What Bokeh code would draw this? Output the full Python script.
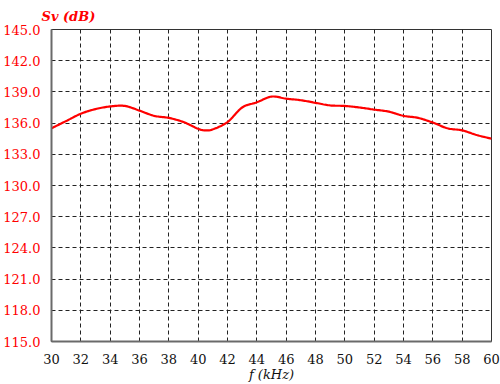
import numpy as np
from bokeh.plotting import figure
from bokeh.models import Title, FixedTicker, NumeralTickFormatter, ColumnDataSource
from bokeh.embed import file_html
from bokeh.resources import INLINE

freq_khz = [30, 31, 32, 33, 34, 35, 36, 37, 38, 39, 40, 40.5, 41, 42, 43, 44, 45,
            46, 47, 48, 49, 50, 51, 52, 53, 54, 55, 56, 57, 58, 59, 60]
sv_db = [135.5, 136.2, 136.9, 137.35, 137.6, 137.65, 137.2, 136.7, 136.5, 136.1,
         135.45, 135.3, 135.4, 136.1, 137.5, 138.0, 138.55, 138.35, 138.2, 137.95,
         137.7, 137.65, 137.5, 137.3, 137.1, 136.7, 136.5, 136.05, 135.5, 135.3,
         134.85, 134.5]
x_ticks = list(range(30, 61, 2))
y_ticks = [115, 118, 121, 124, 127, 130, 133, 136, 139, 142, 145]

FONT = "DejaVu Serif"

def catmull(xs, ys, n=12):
    xs = np.asarray(xs, float); ys = np.asarray(ys, float)
    px = np.concatenate([[2*xs[0]-xs[1]], xs, [2*xs[-1]-xs[-2]]])
    py = np.concatenate([[2*ys[0]-ys[1]], ys, [2*ys[-1]-ys[-2]]])
    ox, oy = [], []
    for i in range(1, len(px)-2):
        t = np.linspace(0, 1, n, endpoint=False)
        for arr, out in ((px, ox), (py, oy)):
            p0, p1, p2, p3 = arr[i-1], arr[i], arr[i+1], arr[i+2]
            out.extend(0.5*((2*p1) + (-p0+p2)*t + (2*p0-5*p1+4*p2-p3)*t**2 + (-p0+3*p1-3*p2+p3)*t**3))
    ox.append(xs[-1]); oy.append(ys[-1])
    return ox, oy

cx, cy = catmull(freq_khz, sv_db)
src = ColumnDataSource(dict(x=cx, y=cy))

p = figure(width=500, height=384, output_backend="svg", toolbar_location=None,
           x_range=(30, 60), y_range=(115, 145),
           min_border_left=51, min_border_right=9, min_border_top=28, min_border_bottom=40)
p.background_fill_color = "white"
p.border_fill_color = "white"
p.outline_line_color = "#333333"
p.outline_line_width = 1

p.line("x", "y", source=src, line_color="#ff0000", line_width=2.2)

title = Title(text="Sv (dB)", align="left", offset=-10, text_color="#ff0000",
              text_font=FONT, text_font_style="bold italic",
              text_font_size="13px", standoff=12)
p.add_layout(title, "above")

for ax in (p.xaxis[0], p.yaxis[0]):
    ax.major_tick_out = 0
    ax.major_tick_in = 0
    ax.minor_tick_out = 0
    ax.minor_tick_in = 0
    ax.axis_line_color = "#6a6a6a"
    ax.axis_line_width = 2
    ax.major_label_text_font = FONT
    ax.major_label_text_font_size = "13px"

p.xaxis.ticker = FixedTicker(ticks=x_ticks)
p.yaxis.ticker = FixedTicker(ticks=y_ticks)
p.yaxis.formatter = NumeralTickFormatter(format="0.0")
p.yaxis.major_label_text_color = "#ff0000"
p.yaxis.major_label_standoff = 11
p.xaxis.major_label_text_color = "#111111"
p.xaxis.major_label_standoff = 12
p.xaxis.axis_label = "f (kHz)"
p.xaxis.axis_label_text_font = FONT
p.xaxis.axis_label_text_font_style = "italic"
p.xaxis.axis_label_text_font_size = "13px"
p.xaxis.axis_label_text_color = "#111111"
p.xaxis.axis_label_standoff = 0

p.grid.grid_line_color = "#222222"
p.grid.grid_line_dash = "4 3"
p.grid.grid_line_width = 1

open("out.html", "w").write(file_html(p, INLINE))
